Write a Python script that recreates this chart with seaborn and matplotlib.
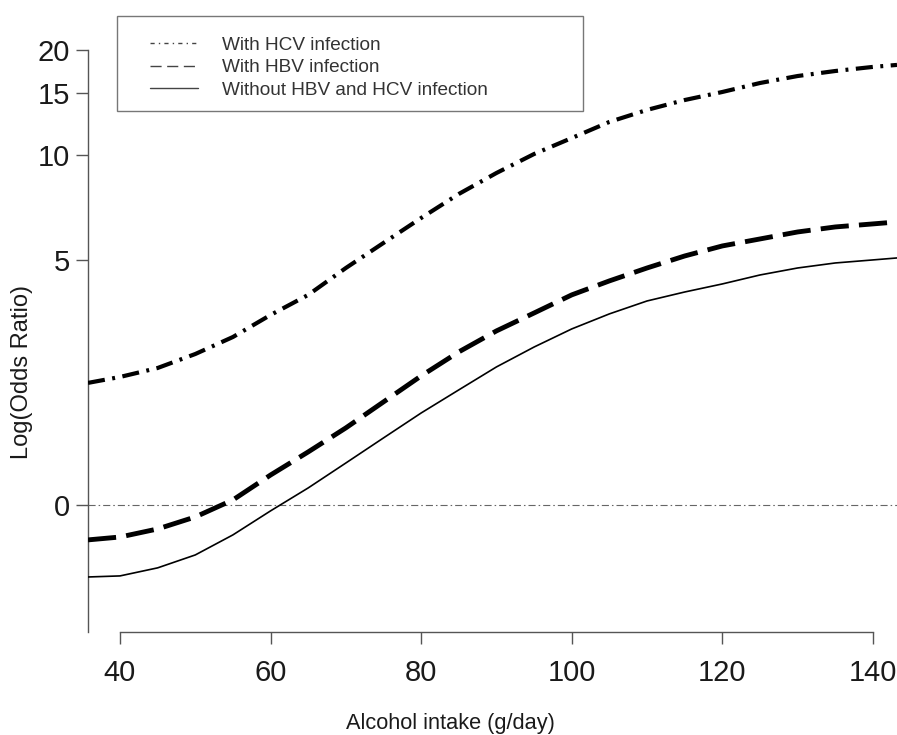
import numpy as np
import pandas as pd
import matplotlib
matplotlib.use("Agg")
import matplotlib.pyplot as plt
from matplotlib.lines import Line2D
from matplotlib.patches import Rectangle
import seaborn as sns

# ---- data ----
alcohol = [35.75, 40, 45, 50, 55, 60, 65, 70, 75, 80, 85, 90, 95, 100,
           105, 110, 115, 120, 125, 130, 135, 140, 143.2]
log_or_hcv = [0.803, 0.842, 0.901, 0.993, 1.105, 1.250, 1.382, 1.559, 1.724,
              1.888, 2.046, 2.184, 2.309, 2.414, 2.520, 2.599, 2.664, 2.717,
              2.776, 2.822, 2.855, 2.882, 2.895]
log_or_hbv = [-0.230, -0.211, -0.158, -0.079, 0.033, 0.197, 0.349, 0.507, 0.678,
              0.849, 1.007, 1.145, 1.263, 1.382, 1.474, 1.559, 1.638, 1.704,
              1.750, 1.796, 1.829, 1.849, 1.862]
log_or_none = [-0.474, -0.467, -0.414, -0.329, -0.197, -0.039, 0.112, 0.276, 0.441,
               0.605, 0.757, 0.908, 1.039, 1.158, 1.257, 1.342, 1.401, 1.454,
               1.513, 1.559, 1.592, 1.612, 1.625]
labels = ["With HCV infection", "With HBV infection",
          "Without HBV and HCV infection"]
x_ticks = [40, 60, 80, 100, 120, 140]
or_ticks = [1, 5, 10, 15, 20]
or_tick_labels = ["0", "5", "10", "15", "20"]

sns.set_style("ticks")
plt.rcParams["font.family"] = ["Liberation Sans", "DejaVu Sans"]

W, H = 897, 735
fig = plt.figure(figsize=(W / 100, H / 100), dpi=100)
ax = fig.add_axes([88 / W, (H - 632) / H, 809 / W, 592 / H])

axis_col = "#555555"

# reference line at log(OR)=0
ax.axhline(0, color="#666666", lw=0.8, linestyle=(0, (6.4, 2.7, 1.4, 2.7)), zorder=1)

sns.lineplot(x=alcohol, y=log_or_hcv, ax=ax, color="black", lw=3.0,
             linestyle=(0, (4.1, 1.8, 0.7, 1.8)), legend=False, zorder=3)
sns.lineplot(x=alcohol, y=log_or_hbv, ax=ax, color="black", lw=3.5,
             linestyle=(0, (5.8, 2.1)), legend=False, zorder=3)
sns.lineplot(x=alcohol, y=log_or_none, ax=ax, color="black", lw=1.2,
             legend=False, zorder=3)

ax.set_xlim(35.75, 143.2)
ax.set_ylim(-0.836, 3.059)

ax.set_xticks(x_ticks)
ax.set_xticklabels([str(v) for v in x_ticks])
ax.set_yticks(np.log(or_ticks))
ax.set_yticklabels(or_tick_labels)

for s in ["top", "right"]:
    ax.spines[s].set_visible(False)
ax.spines["left"].set_bounds(-0.836, np.log(20))
ax.spines["bottom"].set_bounds(40, 140)
for s in ["left", "bottom"]:
    ax.spines[s].set_color(axis_col)
    ax.spines[s].set_linewidth(1.0)

ax.tick_params(axis="x", length=8.6, width=1.0, color=axis_col, pad=11,
               labelsize=21, labelcolor="#1a1a1a")
ax.tick_params(axis="y", length=8.6, width=1.0, color=axis_col, pad=4.5,
               labelsize=21, labelcolor="#1a1a1a")

ax.set_xlabel("Alcohol intake (g/day)", fontsize=15.7, color="#1a1a1a", va="top")
ax.xaxis.set_label_coords((450 - 88) / 809, (632 - 713) / 592)
ax.set_ylabel("Log(Odds Ratio)", fontsize=17, color="#1a1a1a")
ax.yaxis.set_label_coords((33 - 88) / 809, (632 - 372) / 592)

# legend
handles = [
    Line2D([], [], color="#444444", lw=1.0, linestyle=(0, (3, 3, 1, 3))),
    Line2D([], [], color="#444444", lw=1.0, linestyle=(0, (8, 4))),
    Line2D([], [], color="#444444", lw=1.0),
]
leg = ax.legend(handles, labels, loc="upper left",
                bbox_to_anchor=(140 / W, 1 - 27 / H), bbox_transform=fig.transFigure,
                frameon=False, borderpad=0, handlelength=48 / 19,
                handletextpad=24 / 19, labelspacing=0.28, fontsize=13.7)
for t in leg.get_texts():
    t.set_color("#333333")
fig.add_artist(Rectangle((117 / W, 1 - 111 / H), (583 - 117) / W, 95 / H,
                         transform=fig.transFigure, fill=False,
                         edgecolor="#777777", lw=1.0))

fig.savefig("out.png", dpi=100)
